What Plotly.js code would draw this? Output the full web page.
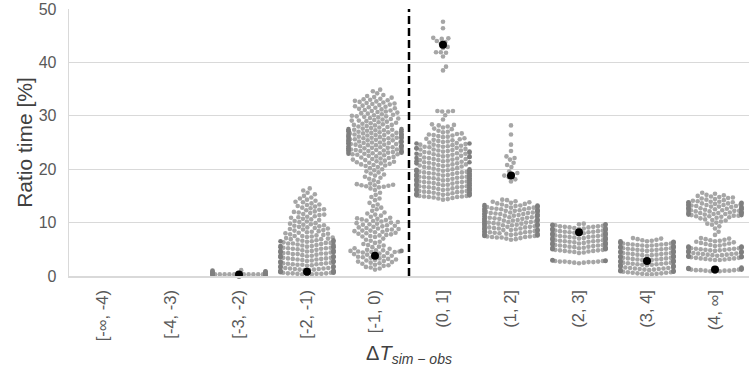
<!DOCTYPE html>
<html><head><meta charset="utf-8">
<script src="https://cdn.plot.ly/plotly-3.0.1.min.js"></script>
<style>html,body{margin:0;padding:0;background:#fff}#chart{width:749px;height:374px}</style>
</head><body><div id="chart"></div>
<script>
// Category labels (x axis)
const categories = ["[-\u221e, -4)", "[-4, -3)", "[-3, -2)", "[-2, -1)", "[-1, 0)", "(0, 1]", "(1, 2]", "(2, 3]", "(3, 4]", "(4, \u221e]"];

// Ratio time [%] values per category
const vNegInf4 = [];
const vNeg4_3 = [];
const vNeg3_2 = [0.3,0.3,0.3,0.3,0.3,0.3,0.3,0.3,0.3,0.3,0.3,0.3,0.3,0.3,0.3,0.3,0.3,0.3,0.3,0.3,0.4,0.4,0.5,0.5,0.6,0.8,0.9,0.9,1.0,1.1];
const vNeg2_1 = [0.3,0.3,0.3,0.4,0.4,0.4,0.5,0.5,0.5,0.6,0.6,0.6,0.7,0.7,0.8,0.8,0.9,0.9,1.0,1.0,
1.1,1.1,1.2,1.2,1.3,1.3,1.4,1.4,1.5,1.5,1.6,1.6,1.7,1.7,1.8,1.8,1.9,2.0,
2.1,2.1,2.2,2.2,2.3,2.3,2.4,2.4,2.5,2.5,2.6,2.6,2.7,2.7,2.8,2.8,2.9,3.0,
3.1,3.1,3.2,3.2,3.3,3.3,3.4,3.4,3.5,3.5,3.6,3.6,3.7,3.7,3.8,3.8,3.9,4.0,
4.1,4.1,4.2,4.2,4.3,4.3,4.4,4.4,4.5,4.5,4.6,4.6,4.7,4.7,4.8,4.8,4.9,5.0,
5.1,5.1,5.2,5.2,5.3,5.3,5.4,5.4,5.5,5.5,5.6,5.6,5.7,5.8,5.8,5.9,6.0,
6.1,6.1,6.2,6.2,6.3,6.4,6.4,6.5,6.5,6.6,6.7,6.7,6.8,6.9,6.9,7.0,
7.1,7.2,7.3,7.4,7.5,7.5,7.6,7.7,7.8,7.9,8.0,
8.1,8.2,8.3,8.4,8.5,8.6,8.7,8.8,8.9,9.0,
9.1,9.2,9.3,9.4,9.5,9.6,9.7,9.8,9.9,
10.1,10.2,10.3,10.5,10.6,10.7,10.9,11.0,
11.1,11.2,11.4,11.5,11.6,11.8,11.9,12.0,
12.1,12.3,12.4,12.5,12.7,12.8,13.0,
13.1,13.3,13.4,13.6,13.8,13.9,
14.1,14.3,14.5,14.7,15.0,
15.3,15.6,16.0,16.4];
const vNeg1_0 = [1.2,1.4,1.6,1.7,1.9,2.0,
2.1,2.3,2.4,2.5,2.6,2.7,2.8,2.9,3.0,
3.1,3.2,3.3,3.4,3.5,3.6,3.7,3.8,3.9,4.0,
4.1,4.2,4.3,4.4,4.5,4.5,4.6,4.6,4.7,4.7,4.8,4.8,4.9,
5.1,5.2,5.4,5.5,5.7,5.8,6.0,
6.2,6.4,6.6,6.8,7.0,
7.3,7.4,7.5,7.6,7.7,7.8,7.9,8.0,
8.1,8.2,8.3,8.4,8.5,8.5,8.6,8.7,8.8,8.9,9.0,
9.1,9.2,9.3,9.4,9.5,9.6,9.7,9.8,9.9,10.0,
10.1,10.2,10.3,10.4,10.5,10.6,10.7,10.8,10.9,
11.1,11.3,11.5,11.7,11.9,
12.2,12.5,12.8,
13.1,13.4,13.7,
14.2,14.5,14.8,
15.2,15.6,
16.1,16.4,16.6,16.7,16.8,16.9,17.0,17.0,17.1,17.2,17.3,
17.6,17.9,18.2,18.4,
18.6,18.8,19.0,19.2,19.4,19.6,19.8,20.0,20.2,20.4,
20.6,20.7,20.8,20.9,21.0,21.1,21.2,21.3,21.4,21.5,21.6,21.7,21.8,21.9,22.0,22.1,22.2,22.3,22.4,22.5,22.6,
22.7,22.8,22.8,22.9,22.9,23.0,23.0,23.1,23.1,23.2,23.2,23.3,23.3,23.4,23.4,23.5,23.5,23.6,23.6,23.7,
23.7,23.8,23.8,23.9,23.9,24.0,24.0,24.1,24.1,24.2,24.2,24.3,24.3,24.4,24.4,24.5,24.5,24.6,24.6,24.7,24.7,
24.8,24.8,24.9,24.9,25.0,25.0,25.1,25.1,25.2,25.2,25.3,25.3,25.4,25.4,25.5,25.5,25.6,25.6,25.7,25.7,
25.8,25.8,25.9,25.9,26.0,26.0,26.1,26.1,26.2,26.2,26.3,26.3,26.4,26.4,26.5,26.5,26.6,26.6,26.7,26.7,
26.8,26.8,26.9,26.9,27.0,27.0,27.1,27.1,27.2,27.2,27.3,27.3,27.4,27.4,27.5,27.5,27.6,27.7,27.8,
27.9,28.0,28.1,28.2,28.3,28.3,28.4,28.5,28.6,28.7,28.8,28.9,29.0,29.1,29.1,29.2,29.3,29.4,29.5,29.6,29.7,29.8,29.9,29.9,30.0,30.1,30.2,30.3,30.4,30.5,30.6,
30.7,30.8,30.9,31.0,31.1,31.2,31.3,31.4,31.5,31.6,31.7,31.8,31.9,32.0,32.1,32.2,32.3,32.4,32.5,32.6,32.7,32.8,32.9,33.0,33.1,33.2,33.4,33.5,33.7,33.9,
34.2,34.6,34.9];
const v0_1 = [47.6,46.4,44.6,44.5,44.4,44.0,43.8,43.5,42.9,42.7,41.9,41.9,41.8,41.1,39.2,38.5,
30.8,30.8,30.9,30.9,
29.3,30.1,
27.5,27.6,27.8,28.0,28.2,28.3,28.4,
26.0,26.1,26.2,26.3,26.4,26.5,26.6,26.7,26.9,27.0,27.2,
24.1,24.2,24.2,24.3,24.4,24.4,24.5,24.6,24.6,24.7,24.8,24.8,24.9,25.0,25.1,25.2,25.3,25.4,25.5,25.6,25.7,25.8,
20.6,20.7,20.7,20.8,20.9,20.9,21.0,21.1,21.1,21.2,21.3,21.3,21.4,21.5,21.5,21.6,21.7,21.7,21.8,21.9,21.9,22.0,22.1,22.1,22.2,22.3,22.3,22.4,22.5,22.5,22.6,22.7,22.7,22.8,22.9,22.9,23.0,23.1,23.1,23.2,23.3,23.3,23.4,23.5,23.5,23.6,23.7,23.7,23.8,23.9,23.9,24.0,
14.3,14.4,14.5,14.6,14.7,14.8,14.8,14.9,14.9,15.0,15.0,15.1,15.1,15.2,15.2,15.3,15.3,15.4,15.4,15.5,15.5,15.6,15.6,15.7,15.7,15.8,15.8,15.9,15.9,16.0,16.0,16.1,16.1,16.2,16.2,16.3,16.3,16.4,16.4,16.5,16.5,16.6,16.6,16.7,16.7,16.8,16.8,16.9,16.9,17.0,17.0,17.1,17.1,17.2,17.2,17.3,17.3,17.4,17.4,17.5,17.5,17.6,17.6,17.7,17.7,17.8,17.8,17.9,17.9,18.0,18.0,18.1,18.1,18.2,18.2,18.3,18.3,18.4,18.4,18.5,18.5,18.6,18.6,18.7,18.7,18.8,18.8,18.9,18.9,19.0,19.0,19.1,19.1,19.2,19.2,19.3,19.3,19.4,19.4,19.5,19.5,19.6,19.6,19.7,19.7,19.8,19.8,19.9,19.9,20.0,20.0,20.1,20.2,20.3,20.4,20.5];
const v1_2 = [17.7,18.1,18.5,18.8,19.0,19.3,19.6,20.4,20.8,21.2,21.8,22.1,22.4,23.4,24.6,26.5,28.2,
6.8,6.9,7.0,7.1,7.2,7.2,7.3,7.3,7.4,7.4,7.5,7.5,7.6,7.6,7.7,7.7,7.8,7.8,7.9,7.9,8.0,8.0,8.1,8.1,8.2,8.2,8.3,8.3,8.4,8.4,8.5,8.5,8.6,8.6,8.7,8.7,8.8,8.8,8.9,8.9,9.0,9.0,9.1,9.1,9.2,9.2,9.3,9.3,9.4,9.4,9.5,9.5,9.6,9.6,9.7,9.7,9.8,9.8,9.9,9.9,10.0,10.0,10.1,10.1,10.2,10.2,10.3,10.3,10.4,10.4,10.5,10.5,10.6,10.6,10.7,10.7,10.8,10.8,10.9,10.9,11.0,11.0,11.1,11.1,11.2,11.2,11.3,11.3,11.4,11.4,11.5,11.5,11.6,11.6,11.7,11.7,11.8,11.8,11.9,11.9,12.0,12.0,12.1,12.1,12.2,12.2,12.3,12.3,12.4,12.4,12.5,12.5,12.6,12.6,12.7,12.7,12.8,12.8,12.9,12.9,13.0,13.0,13.1,13.1,13.2,13.2,13.3,13.4,13.5,13.6,13.7,13.8,13.9,14.0,14.2,14.3];
const v2_3 = [2.4,2.5,2.5,2.6,2.6,2.6,2.7,2.7,2.7,2.8,2.8,2.8,2.9,2.9,3.0,
4.3,4.4,4.5,4.6,4.6,4.7,4.7,4.8,4.8,4.9,4.9,5.0,5.0,5.1,5.1,5.2,5.2,5.3,5.3,5.4,5.4,5.5,5.5,5.6,5.6,5.7,5.7,5.8,5.8,5.9,5.9,6.0,6.0,6.1,6.1,6.2,6.2,6.3,6.3,6.4,6.4,6.5,6.5,6.6,6.6,6.7,6.7,6.8,6.8,6.9,6.9,7.0,7.0,7.1,7.1,7.2,7.2,7.3,7.3,7.4,7.4,7.5,7.5,7.6,7.6,7.7,7.7,7.8,7.8,7.9,7.9,8.0,8.0,8.1,8.1,8.2,8.2,8.3,8.3,8.4,8.4,8.5,8.5,8.6,8.6,8.7,8.7,8.8,8.8,8.9,8.9,9.0,9.0,9.1,9.1,9.2,9.2,9.3,9.3,9.4,9.5,9.5,9.6,9.6,9.7,9.7,9.8];
const v3_4 = [0.3,0.3,0.4,0.4,0.5,0.5,0.6,0.6,0.7,0.7,0.8,0.8,0.9,0.9,1.0,1.0,1.1,1.1,1.2,1.2,1.3,1.3,1.4,1.4,1.5,1.5,1.6,1.6,1.7,1.7,1.8,1.8,1.9,1.9,2.0,2.0,2.1,2.1,2.2,2.2,2.3,2.3,2.4,2.4,2.5,2.5,2.6,2.6,2.7,2.7,2.8,2.8,2.9,2.9,3.0,3.0,3.1,3.1,3.2,3.2,3.3,3.3,3.4,3.4,3.5,3.5,3.6,3.6,3.7,3.7,3.8,3.8,3.9,3.9,4.0,4.0,4.1,4.1,4.2,4.2,4.3,4.3,4.4,4.4,4.5,4.5,4.6,4.6,4.7,4.7,4.8,4.8,4.9,4.9,5.0,5.0,5.1,5.1,5.2,5.2,5.3,5.3,5.4,5.4,5.5,5.5,5.6,5.6,5.7,5.7,5.8,5.8,5.9,5.9,6.0,6.0,6.1,6.1,6.2,6.2,6.3,6.3,6.4,6.5,6.5,6.6,6.7,6.8,6.9,7.0,7.1];
const v4_inf = [0.8,0.9,0.9,1.0,1.0,1.0,1.1,1.1,1.1,1.2,1.2,1.2,1.3,1.3,1.4,1.4,1.5,1.6,
3.0,3.0,3.1,3.1,3.2,3.2,3.3,3.3,3.4,3.4,3.5,3.5,3.6,3.6,3.7,3.7,3.8,3.8,3.9,3.9,4.0,4.0,4.1,4.1,4.2,4.2,4.3,4.3,4.4,4.4,4.5,4.5,4.6,4.6,4.7,4.7,4.8,4.8,4.9,4.9,5.0,5.0,5.1,5.1,5.2,5.2,5.3,5.3,5.4,5.4,5.5,5.5,5.6,5.7,5.8,
5.9,6.0,6.1,6.2,6.3,6.4,6.5,6.6,6.7,6.8,6.9,7.0,7.1,
7.7,8.3,8.9,
9.3,9.6,9.8,10.0,10.2,10.4,10.5,10.6,10.8,10.9,11.0,11.1,
11.2,11.2,11.3,11.3,11.4,11.4,11.5,11.5,11.6,11.6,11.7,11.7,11.8,11.8,11.9,11.9,12.0,12.0,12.1,12.1,12.2,12.2,12.3,12.3,12.4,12.4,12.5,12.5,12.6,12.6,12.7,12.7,12.8,12.8,12.9,12.9,13.0,13.0,13.1,13.1,13.2,13.2,13.3,13.3,13.4,13.4,13.5,13.5,13.6,13.6,13.7,13.7,13.8,13.8,13.9,13.9,14.0,
14.1,14.2,14.3,14.4,14.5,14.6,14.7,14.8,14.9,15.0,15.1,15.2,15.4,15.6];

// Highlighted (black) value per category
const highlight = [null, null, 0.3, 0.8, 3.8, 43.3, 18.8, 8.2, 2.8, 1.2];

const seriesList = [vNegInf4, vNeg4_3, vNeg3_2, vNeg2_1, vNeg1_0, v0_1, v1_2, v2_3, v3_4, v4_inf];

// ---- swarm layout (pixel space) ----
const W = 749, H = 374;
const M = {l: 69, r: 0, t: 9, b: 98};
const yMax = 50;
const plotW = W - M.l - M.r, plotH = H - M.t - M.b;
const pxPerCat = plotW / categories.length;
const pxPerUnit = plotH / yMax;
const D = 4.8;            // point spacing (px)
const HALF = 26.5;        // half swarm width (px)

function swarm(vals) {
  const pts = vals.map(v => ({v, y: v * pxPerUnit})).sort((a, b) => a.y - b.y);
  const placed = [];
  for (const p of pts) {
    const nb = placed.filter(q => Math.abs(q.y - p.y) < D);
    const cands = [0];
    for (const q of nb) {
      const dx = Math.sqrt(D * D - (q.y - p.y) ** 2);
      cands.push(q.x + dx, q.x - dx);
    }
    cands.sort((a, b) => Math.abs(a) - Math.abs(b));
    let chosen = cands[cands.length - 1];
    for (const c of cands) {
      if (nb.every(q => (q.x - c) ** 2 + (q.y - p.y) ** 2 >= D * D - 1e-6)) { chosen = c; break; }
    }
    p.x = chosen;
    placed.push(p);
  }
  return pts.map(p => ({v: p.v, x: Math.max(-HALF, Math.min(HALF, p.x)), gut: Math.abs(p.x) > HALF}));
}

const nx = [], ny = [], gx = [], gy = [];
seriesList.forEach((vals, i) => {
  swarm(vals).forEach(p => {
    const xv = i + p.x / pxPerCat;
    if (p.gut) { gx.push(xv); gy.push(p.v); } else { nx.push(xv); ny.push(p.v); }
  });
});
const hx = [], hy = [];
highlight.forEach((v, i) => { if (v !== null) { hx.push(i); hy.push(v); } });

const font = "'Liberation Sans', Arial, sans-serif";
const traces = [
  {type: 'scatter', mode: 'markers', x: nx, y: ny, cliponaxis: false, hoverinfo: 'skip',
   marker: {size: 4.6, color: '#a6a6a6', line: {width: 0}}},
  {type: 'scatter', mode: 'markers', x: gx, y: gy, cliponaxis: false, hoverinfo: 'skip',
   marker: {size: 4.6, color: '#7f7f7f', line: {width: 0}}},
  {type: 'scatter', mode: 'markers', x: hx, y: hy, cliponaxis: false, hoverinfo: 'skip',
   marker: {size: 8, color: '#000000', line: {width: 0}}}
];
const layout = {
  width: W, height: H,
  margin: M,
  paper_bgcolor: '#ffffff', plot_bgcolor: '#ffffff',
  showlegend: false,
  font: {family: font, color: '#595959'},
  xaxis: {
    range: [-0.5, categories.length - 0.5], tickmode: 'array',
    tickvals: categories.map((c, i) => i), ticktext: categories,
    tickangle: -90, tickfont: {size: 16.5, color: '#595959', family: font},
    showgrid: false, zeroline: false, showline: true, linecolor: '#d9d9d9', linewidth: 1.5,
    ticks: '', ticklabelstandoff: 6, automargin: false,
    title: {text: '\u0394<i>T</i><sub><i>sim \u2212 obs</i></sub>', font: {size: 20, color: '#404040', family: font}, standoff: 5}
  },
  yaxis: {
    range: [0, yMax], tickvals: [0, 10, 20, 30, 40, 50],
    tickfont: {size: 16, color: '#595959', family: font},
    showgrid: true, gridcolor: '#d9d9d9', gridwidth: 1.3, zeroline: false,
    showline: true, linecolor: '#d9d9d9', linewidth: 1.3, ticks: '', ticklabelstandoff: 8, automargin: false,
    title: {text: 'Ratio time [%]', font: {size: 21, color: '#404040', family: font}, standoff: 0}
  },
  shapes: [{type: 'line', xref: 'x', yref: 'paper', x0: 4.5, x1: 4.5, y0: 0, y1: 1,
            line: {color: '#000000', width: 2.5, dash: '8px,4px'}}]
};
Plotly.newPlot('chart', traces, layout, {staticPlot: true, displayModeBar: false});
</script></body></html>
